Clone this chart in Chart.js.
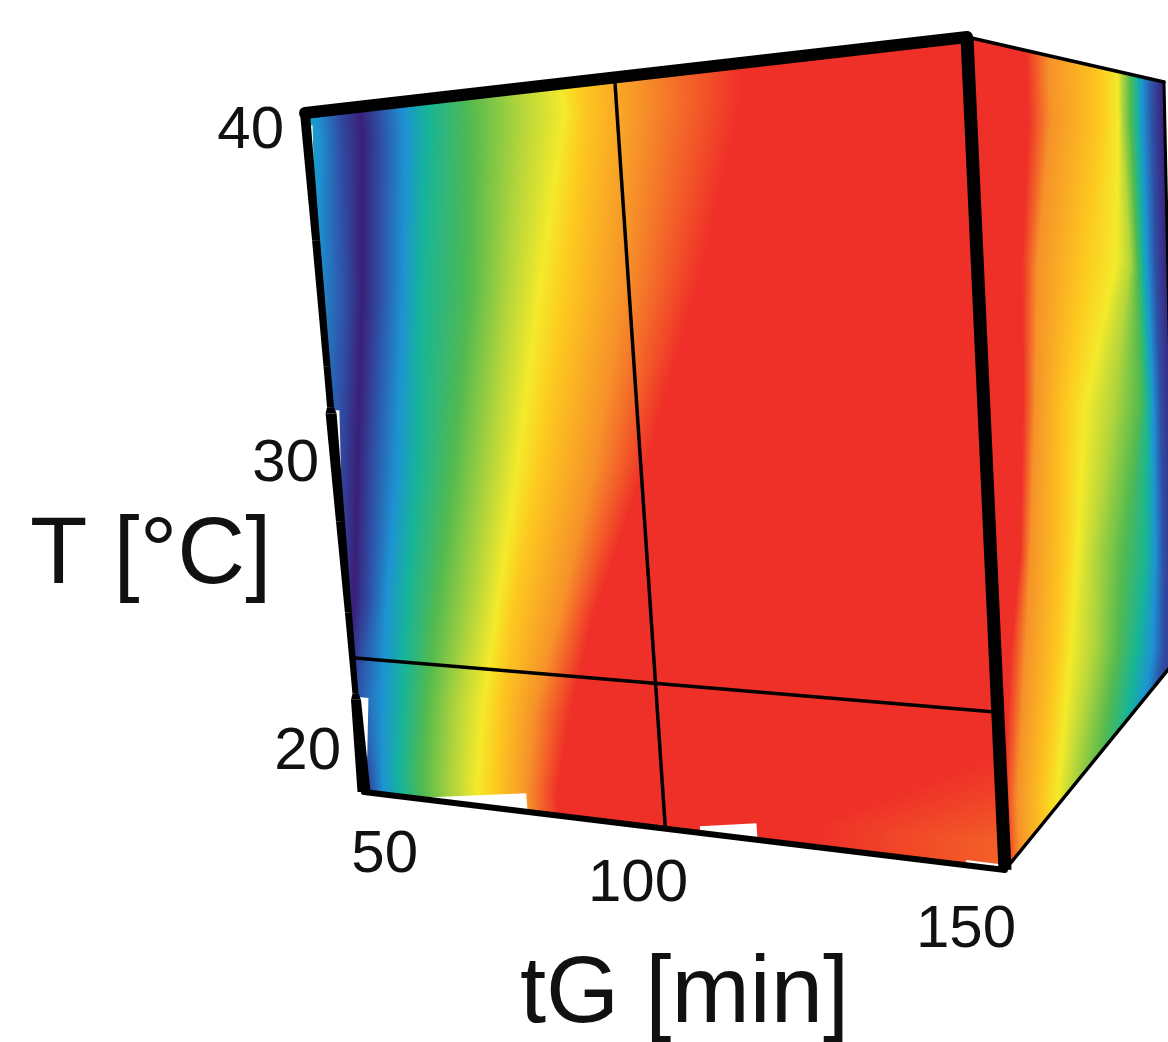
<!DOCTYPE html>
<html>
<head>
<meta charset="utf-8">
<style>html,body{margin:0;padding:0;background:#fff}canvas{display:block}</style>
<script src="https://cdn.jsdelivr.net/npm/chart.js@4"></script>
</head>
<body>
<canvas id="c" width="1168" height="1042"></canvas>
<script>
// ---- data ----
const tTicks = [40, 30, 20];
const tGTicks = [50, 100, 150];
const tAxisTitle = 'T [°C]';
const tGAxisTitle = 'tG [min]';
const sliceTG = 102;
const sliceTEnds = [22.5, 22.35];

// colour levels along each row of the front face
const frontLevels = [2.6, 1, 0, 1, 2, 3, 4, 5, 6, 7, 8, 9, 9, 8.5];
const frontRowT = [39.1, 34.1, 28.8, 24.4, 21.2, 18.7];
// tG at which each level of frontLevels is reached, one list per row of frontRowT
const frontRow39 = [50, 56, 60, 63.3, 67.7, 71.5, 78.8, 87.1, 93.9, 97.1, 105.8, 120.3, 170, 200];
const frontRow34 = [46, 54.5, 57.5, 60.8, 64.9, 67.9, 76.6, 82.8, 87.9, 92.5, 101.3, 112.4, 170, 200];
const frontRow29 = [42, 50.5, 54.1, 56.9, 61.3, 64.9, 71.3, 77.6, 82.2, 86, 94.6, 102.5, 170, 200];
const frontRow24 = [40, 48, 51.3, 54.1, 57.3, 61, 66.4, 72.8, 76.9, 79.7, 87.5, 92.9, 170, 200];
const frontRow21 = [38, 45, 47.5, 50, 55, 58.7, 63.1, 68.5, 73.1, 76.1, 81.8, 87.9, 150, 180];
const frontRow19 = [38, 45, 48, 51.3, 53.8, 57, 61.2, 66.7, 71, 74.5, 79.7, 84.7, 125, 150];

// side face: depth (percent) at which each level is reached
const sideLevels = [9, 8, 7, 6, 5, 4, 3, 2, 1, 0];
const sideRowH = [0.1, 0.27, 0.44, 0.62, 0.735, 0.918];
const sideRow1 = [28.6, 39.3, 63.6, 72.3, 74.3, 78.2, 81.6, 84, 88.8, 94.2];
const sideRow2 = [23.1, 30.7, 53.8, 70.4, 77.4, 80.9, 83.4, 85.9, 89.9, 96];
const sideRow3 = [20.8, 27.1, 42.7, 53.1, 67.7, 81.8, 85.9, 88.5, 92.2, 98.4];
const sideRow4 = [16.2, 21.6, 39.5, 47, 56.8, 71.9, 84.9, 89.2, 93.5, 101.6];
const sideRow5 = [8.8, 17.1, 34.8, 42, 54.7, 68, 79, 87.3, 93.4, 102.8];
const sideRow6 = [1.2, 8.7, 23.7, 31.8, 39.3, 53.8, 65.3, 74, 82.7, 97];

// places where the surface does not reach the frame (tG, T)
const gapTop = [[50, 39.6], [51.2, 39.6], [50.8, 38.5], [50, 38.5]];
const gapLeftA = [[50, 30.6], [51.6, 30.6], [50.9, 28.6], [50, 28.6]];
const gapLeftB = [[50, 21.2], [52.4, 21.2], [51.2, 19.2], [50, 19.2]];
const gapBottomA = [[62.6, 18.1], [79.5, 18.6], [79.5, 18], [62.6, 18]];
const gapBottomB = [[107.4, 18.2], [116, 18.5], [116, 18], [107.4, 18]];
const gapBottomC = [[145, 18.15], [149.5, 18.15], [149.5, 18], [145, 18]];

// ---- palette and layout ----
const palette = [[58,31,120],[47,79,165],[29,147,211],[22,180,154],[82,186,79],
                 [179,213,59],[244,234,42],[253,200,31],[246,146,41],[239,48,40]];
const frontCorners = {tl:[305,113], tr:[967,37], br:[1005,870], bl:[364,792]};
const sideLayout = {top:38, height:832, leftTop:965, leftShift:40, far:1175,
  outline:[[967,37],[1164,82],[1176,660],[1005,870]]};
const leftEdgeT = [40, 36, 32, 30.7, 30.5, 27, 24, 21.3, 21.1, 18];
const leftEdgeW = [10, 8, 7, 7, 11, 9, 7, 6, 10, 13];
const labelFont = '60px "Liberation Sans", Arial, sans-serif';
const titleFont = '94px "Liberation Sans", Arial, sans-serif';
const tLabelAt = [[284,148],[319,481],[341,769]];
const tGLabelAt = [[418,872],[688,901],[1016,947]];

function homography(q){
  const [x3,y3]=q.tl,[x2,y2]=q.tr,[x1,y1]=q.br,[x0,y0]=q.bl;
  const dx1=x1-x2,dx2=x3-x2,sx=x0-x1+x2-x3,dy1=y1-y2,dy2=y3-y2,sy=y0-y1+y2-y3;
  const den=dx1*dy2-dx2*dy1;
  const g=(sx*dy2-dx2*sy)/den,h=(dx1*sy-sx*dy1)/den;
  const a=x1-x0+g*x1,b=x3-x0+h*x3,c=x0,d=y1-y0+g*y1,e=y3-y0+h*y3,f=y0;
  const A=e-f*h,B=c*h-b,C=b*f-c*e,D=f*g-d,E=a-c*g,F=c*d-a*f,G=d*h-e*g,H=b*g-a*h,I=a*e-b*d;
  return {
    fwd:(s,t)=>{const w=g*s+h*t+1;return [(a*s+b*t+c)/w,(d*s+e*t+f)/w];},
    inv:(x,y)=>{const w=G*x+H*y+I;return [(A*x+B*y+C)/w,(D*x+E*y+F)/w];}
  };
}
function levelAt(rows,rowKeys,levels,key,pos){
  let i=0,f=0;
  const n=rowKeys.length;
  const asc=rowKeys[1]>rowKeys[0];
  const k=asc?key:-key, k0=asc?rowKeys[0]:-rowKeys[0], kn=asc?rowKeys[n-1]:-rowKeys[n-1];
  if(k<=k0){i=0;f=0;}
  else if(k>=kn){i=n-2;f=1;}
  else{
    for(i=0;i<n-2;i++){const nx=asc?rowKeys[i+1]:-rowKeys[i+1]; if(k<nx)break;}
    const a=asc?rowKeys[i]:-rowKeys[i],b=asc?rowKeys[i+1]:-rowKeys[i+1];
    f=(k-a)/(b-a);
  }
  const ra=rows[i],rb=rows[i+1];
  let prev=ra[0]+(rb[0]-ra[0])*f;
  if(pos<=prev)return levels[0];
  for(let j=1;j<levels.length;j++){
    const p=ra[j]+(rb[j]-ra[j])*f;
    if(pos<p){return levels[j-1]+(levels[j]-levels[j-1])*(pos-prev)/(p-prev);}
    prev=p;
  }
  return levels[levels.length-1];
}
function colourOf(l){
  const v=Math.max(0,Math.min(9,l)),i=Math.min(8,Math.floor(v)),f=v-i;
  const a=palette[i],b=palette[i+1];
  return [a[0]+(b[0]-a[0])*f,a[1]+(b[1]-a[1])*f,a[2]+(b[2]-a[2])*f];
}
function polygon(ctx,pts){
  ctx.beginPath();
  pts.forEach((p,i)=>i?ctx.lineTo(p[0],p[1]):ctx.moveTo(p[0],p[1]));
  ctx.closePath();
}

const cubePlugin = {
  id:'cube',
  beforeDatasetsDraw(chart){
    const ctx=chart.ctx,W=chart.width,Hh=chart.height;
    const area=chart.chartArea,X=chart.scales.x,Y=chart.scales.y,DX=chart.scales.depth,DY=chart.scales.height;
    const hom=homography(frontCorners);
    const pxS=s=>area.left+s*(area.right-area.left);
    const pxT=t=>area.bottom-t*(area.bottom-area.top);
    // data value -> face position, through the chart's scales
    const nS=v=>(X.getPixelForValue(v)-area.left)/(area.right-area.left);
    const nT=v=>(area.bottom-Y.getPixelForValue(v))/(area.bottom-area.top);
    const toScreen=(tg,T)=>hom.fwd(nS(tg),nT(T));
    const frontRows=[frontRow39,frontRow34,frontRow29,frontRow24,frontRow21,frontRow19];
    const sideRows=[sideRow1,sideRow2,sideRow3,sideRow4,sideRow5,sideRow6];

    ctx.save();
    ctx.fillStyle='#fff';ctx.fillRect(0,0,W,Hh);
    // side face
    const off=document.createElement('canvas');off.width=W;off.height=Hh;
    const oc=off.getContext('2d'),img=oc.createImageData(W,Hh),d=img.data;
    for(let y=30;y<880;y++){
      const r=(y-sideLayout.top)/sideLayout.height;
      const xL=sideLayout.leftTop+sideLayout.leftShift*r;
      const rowVal=DY.getValueForPixel(pxT(r));
      for(let x=955;x<W;x++){
        const p=(x-xL)/(sideLayout.far-xL);
        const dep=DX.getValueForPixel(pxS(p));
        const c=colourOf(levelAt(sideRows,sideRowH,sideLevels,rowVal,dep));
        const o=(y*W+x)*4;d[o]=c[0];d[o+1]=c[1];d[o+2]=c[2];d[o+3]=255;
      }
    }
    oc.putImageData(img,0,0);
    ctx.save();polygon(ctx,sideLayout.outline);ctx.clip();ctx.drawImage(off,0,0);ctx.restore();
    // front face
    const img2=oc.createImageData(W,Hh),e=img2.data;
    for(let y=25;y<880;y++)for(let x=295;x<1015;x++){
      const st=hom.inv(x+.5,y+.5);
      if(st[0]<-.02||st[0]>1.02||st[1]<-.02||st[1]>1.02)continue;
      const tg=X.getValueForPixel(pxS(st[0])),T=Y.getValueForPixel(pxT(st[1]));
      const c=colourOf(levelAt(frontRows,frontRowT,frontLevels,T,tg));
      const o=(y*W+x)*4;e[o]=c[0];e[o+1]=c[1];e[o+2]=c[2];e[o+3]=255;
    }
    oc.clearRect(0,0,W,Hh);oc.putImageData(img2,0,0);
    ctx.save();
    polygon(ctx,[frontCorners.tl,frontCorners.tr,frontCorners.br,frontCorners.bl]);ctx.clip();
    ctx.drawImage(off,0,0);ctx.restore();
    // gaps
    ctx.fillStyle='#fff';
    [gapTop,gapLeftA,gapLeftB,gapBottomA,gapBottomB,gapBottomC].forEach(g=>{
      polygon(ctx,g.map(p=>toScreen(p[0],p[1])));ctx.fill();
    });
    // frame
    ctx.strokeStyle='#000';ctx.lineJoin='miter';
    const seg=(a,b,w,cap)=>{ctx.lineWidth=w;ctx.lineCap=cap||'round';ctx.beginPath();ctx.moveTo(a[0],a[1]);ctx.lineTo(b[0],b[1]);ctx.stroke();};
    seg(sideLayout.outline[0],sideLayout.outline[1],3.5);
    seg(sideLayout.outline[1],sideLayout.outline[2],3);
    seg(sideLayout.outline[3],sideLayout.outline[2],3.5);
    seg(toScreen(X.min,Y.max),toScreen(X.max,Y.max),12,'round');
    seg(toScreen(X.max,Y.max),toScreen(X.max,Y.min),13,'butt');
    seg(toScreen(X.min,Y.min),toScreen(X.max,Y.min),6);
    // left edge with the varying thickness of the original
    ctx.fillStyle='#000';
    for(let i=0;i<leftEdgeT.length-1;i++){
      const a=toScreen(X.min,leftEdgeT[i]),b=toScreen(X.min,leftEdgeT[i+1]);
      const wa=leftEdgeW[i]/2,wb=leftEdgeW[i+1]/2;
      polygon(ctx,[[a[0]-wa,a[1]],[a[0]+wa,a[1]],[b[0]+wb,b[1]],[b[0]-wb,b[1]]]);
      ctx.fill();
    }
    seg(toScreen(sliceTG,Y.max),toScreen(sliceTG,Y.min),3.5,'butt');
    seg(toScreen(X.min,sliceTEnds[0]),toScreen(X.max,sliceTEnds[1]),3.5,'butt');
    // labels
    ctx.fillStyle='#111';ctx.textBaseline='alphabetic';ctx.textAlign='right';ctx.font=labelFont;
    tTicks.forEach((v,i)=>ctx.fillText(String(v),tLabelAt[i][0],tLabelAt[i][1]));
    tGTicks.forEach((v,i)=>ctx.fillText(String(v),tGLabelAt[i][0],tGLabelAt[i][1]));
    ctx.textAlign='left';ctx.font=titleFont;
    ctx.fillText(tAxisTitle,30,583);
    ctx.fillText(tGAxisTitle,520,1022,338);
    ctx.restore();
  }
};

const frontRowsAll=[frontRow39,frontRow34,frontRow29,frontRow24,frontRow21,frontRow19];
const sideRowsAll=[sideRow1,sideRow2,sideRow3,sideRow4,sideRow5,sideRow6];
new Chart(document.getElementById('c'),{
  type:'scatter',
  data:{datasets:[
    ...frontRowsAll.map((row,i)=>({label:'T '+frontRowT[i],xAxisID:'x',yAxisID:'y',pointRadius:0,showLine:false,
      data:row.map(v=>({x:v,y:frontRowT[i]}))})),
    ...sideRowsAll.map((row,i)=>({label:'side '+sideRowH[i],xAxisID:'depth',yAxisID:'height',pointRadius:0,showLine:false,
      data:row.map(v=>({x:v,y:sideRowH[i]}))}))
  ]},
  options:{
    responsive:false,devicePixelRatio:1,animation:false,
    layout:{padding:0},
    plugins:{legend:{display:false},tooltip:{enabled:false}},
    scales:{
      x:{type:'linear',min:50,max:150,display:false},
      y:{type:'linear',min:18,max:40,display:false},
      depth:{type:'linear',min:0,max:100,display:false},
      height:{type:'linear',min:0,max:1,display:false}
    }
  },
  plugins:[cubePlugin]
});
</script>
</body>
</html>
